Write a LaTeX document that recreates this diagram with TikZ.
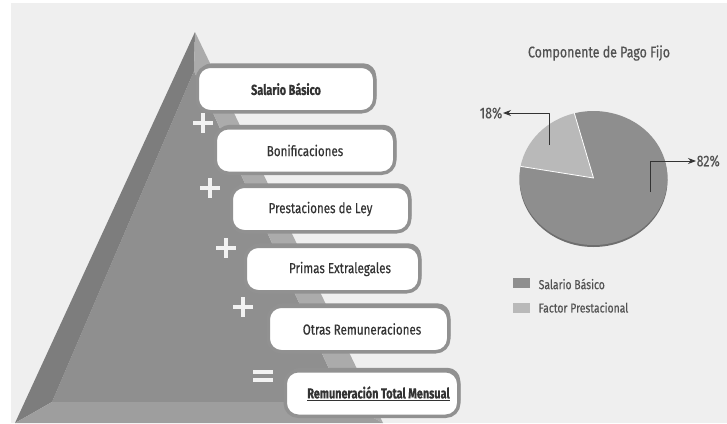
\documentclass[tikz,border=0pt]{standalone}
\usepackage{fontspec}
\setmainfont{Fira Sans}[FakeStretch=0.8, FakeBold=0.4, BoldFeatures={FakeStretch=0.75, FakeBold=0.6}]
\usepackage{xcolor}
\usetikzlibrary{arrows.meta, shadows}
\definecolor{bg_gray}{HTML}{EFEFEF}
\definecolor{pyr_left}{HTML}{7D7D7D}
\definecolor{pyr_face}{HTML}{8F8F8F}
\definecolor{pyr_right}{HTML}{ABABAB}
\definecolor{pyr_base}{HTML}{9E9E9E}
\definecolor{frame_gray}{HTML}{919191}
\definecolor{text_dark}{HTML}{333333}
\definecolor{pie_dark}{HTML}{8E8E8E}
\definecolor{pie_light}{HTML}{B9B9B9}
\definecolor{pie_rim}{HTML}{6E6E6E}

\newcommand{\boxfont}{\fontsize{14.5}{16}\selectfont}
\newcommand{\titlefont}{\fontsize{15.5}{17}\selectfont}
\newcommand{\legendfont}{\fontsize{13}{15}\selectfont}

\tikzset{
    paybox/.style={draw=frame_gray, line width=3.5pt, fill=white,
        rounded corners=13pt, minimum height=45.5pt, inner sep=0pt,
        text=text_dark, font=\boxfont,
        general shadow={fill=frame_gray, shadow xshift=1.5pt, shadow yshift=3pt}},
    op_line/.style={line width=4.5pt, draw=white!95!black},
    pics/plus_sign/.style={code={\draw[op_line] (-10,0) -- (10,0) (0,-10) -- (0,10);}},
    pics/equal_sign/.style={code={\draw[op_line] (-10,-4) -- (10,-4) (-10,4) -- (10,4);}},
    callout/.style={draw=text_dark, line width=0.9pt, -{Stealth[length=8pt, width=6pt]}},
    legend_key/.style={minimum width=17pt, minimum height=10pt, inner sep=0pt},
    chart_text/.style={text=text_dark!85, font=\legendfont, inner sep=0.5pt}
}

\begin{document}
\begin{tikzpicture}[x=1pt, y=-1pt, line join=round]
    \useasboundingbox (0,0) rectangle (727,423);
    % Background
    \fill[white] (0,0) rectangle (727,423);
    \fill[bg_gray] (11,3) rectangle (727,423);

    % Pyramid faces
    \coordinate (apex) at (195,32);
    \coordinate (top_in) at (194,71);
    \coordinate (base_l) at (15,423);
    \coordinate (base_r) at (383,423);
    \coordinate (in_l) at (52,402);
    \coordinate (in_r) at (344,402);
    \fill[pyr_face] (top_in) -- (in_l) -- (in_r) -- cycle;
    \fill[pyr_left] (apex) -- (base_l) -- (in_l) -- (top_in) -- cycle;
    \fill[pyr_right] (apex) -- (base_r) -- (in_r) -- (top_in) -- cycle;
    \fill[pyr_base] (base_l) -- (base_r) -- (in_r) -- (in_l) -- cycle;

    % Operators
    \pic at (203,123) {plus_sign};
    \pic at (210,188) {plus_sign};
    \pic at (226,248) {plus_sign};
    \pic at (243,307) {plus_sign};
    \pic at (263,376) {equal_sign};

    % Pay components
    \node[paybox, minimum width=177.5pt] (basico) at (286,89) {\textbf{Salario Básico}};
    \node[paybox, minimum width=179.5pt] (bonos) at (305,150.5) {Bonificaciones};
    \node[paybox, minimum width=178.5pt] (prestaciones) at (320.5,209) {Prestaciones de Ley};
    \node[paybox, minimum width=174.5pt] (primas) at (332.5,269) {\hspace*{15pt}Primas Extralegales};
    \node[paybox, minimum width=180.5pt] (otras) at (358.5,329) {\hspace*{7pt}Otras Remuneraciones};
    \node[paybox, minimum width=173.5pt] (total) at (372,393.5) {\hspace*{13pt}\textbf{\underline{Remuneración Total Mensual}}};

    % Pie chart
    \node[chart_text, font=\titlefont] (chart_title) at (599,53) {Componente de Pago Fijo};
    \begin{scope}[shift={(593.5,178)}, y=1pt]
        \fill[pie_rim] (0,-2) ellipse [x radius=74, y radius=67];
        \fill[pie_dark] (0,0) -- (170:74 and 67) arc[start angle=170, end angle=465, x radius=74, y radius=67] -- cycle;
        \fill[pie_light] (0,0) -- (105:74 and 67) arc[start angle=105, end angle=170, x radius=74, y radius=67] -- cycle;
        \draw[white, line width=0.8pt] (105:74 and 67) -- (0,0) -- (170:74 and 67);
    \end{scope}

    % Percent callouts
    \coordinate (p18) at (549,145);
    \node[chart_text, font=\titlefont, anchor=east] (l18) at (503,113) {18\%};
    \draw[callout] (p18) |- (l18.east);
    \coordinate (p82) at (650,192);
    \node[chart_text, font=\titlefont, anchor=west] (l82) at (696,161) {82\%};
    \draw[callout] (p82) |- (l82.west);

    % Legend
    \node[legend_key, fill=pie_dark] (key_basico) at (521.5,283) {};
    \node[chart_text, anchor=west] (txt_basico) at (538,284) {Salario Básico};
    \node[legend_key, fill=pie_light] (key_factor) at (521.5,307.5) {};
    \node[chart_text, anchor=west] (txt_factor) at (538,307.5) {Factor Prestacional};
\end{tikzpicture}
\end{document}
